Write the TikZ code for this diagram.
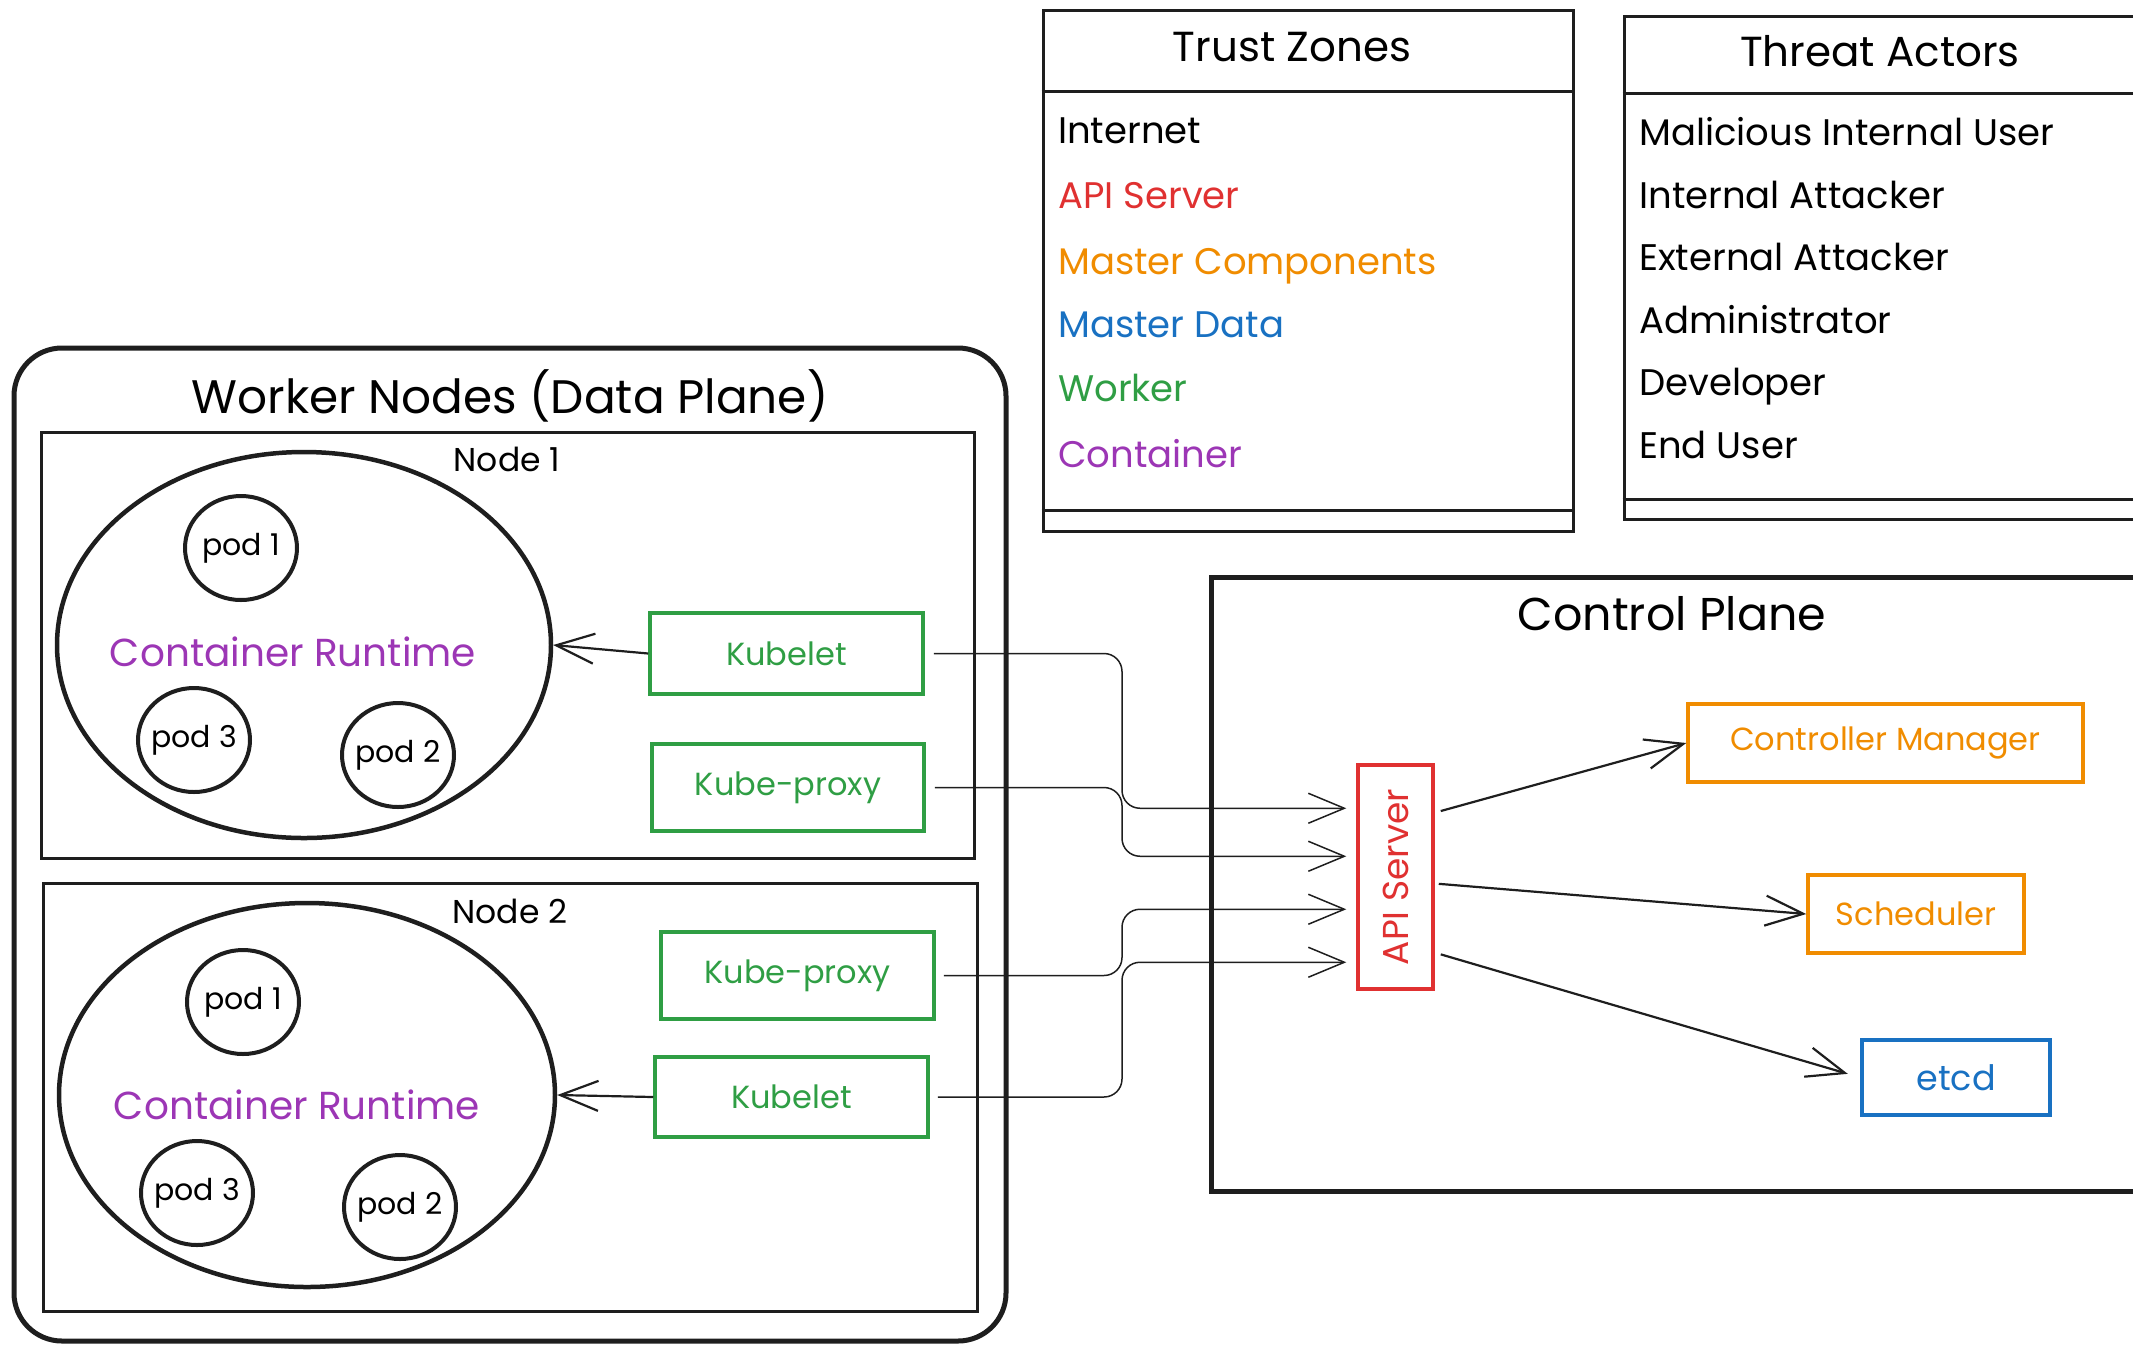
\documentclass[tikz,border=0pt]{standalone}
\usepackage{fontspec}
\setmainfont{Poppins}
\usetikzlibrary{arrows.meta,calc,shapes.geometric}

\definecolor{ink}{HTML}{1E1E1E}
\definecolor{zred}{HTML}{E03131}
\definecolor{zorange}{HTML}{F08C00}
\definecolor{zblue}{HTML}{1971C2}
\definecolor{zgreen}{HTML}{2F9E44}
\definecolor{zpurple}{HTML}{9C36B5}

\tikzset{
  fs/.style={font=\fontsize{#1}{#1}\selectfont},
  frame/.style={draw=ink, line width=#1, inner sep=0pt},
  item/.style={fs=37, anchor=base west, inner sep=0pt},
  cbox/.style={draw=#1, text=#1, line width=3.5pt, inner sep=0pt, fs=32},
  pod/.style={draw=ink, line width=4pt, ellipse, minimum width=112pt, minimum height=104pt, inner sep=0pt,
              label={[fs=30, inner sep=0pt]center:#1}},
  runtime/.style={draw=ink, line width=4.5pt, ellipse, inner sep=0pt},
  conn/.style={draw=ink, line width=1.5pt, rounded corners=18pt, -{Straight Barb[length=36pt,width=30pt]}},
  arr/.style={draw=ink, line width=2.2pt, -{Straight Barb[length=38pt,width=30pt]}},
}

\begin{document}
\begin{tikzpicture}[x=1pt,y=-1pt]
\useasboundingbox (0,0) rectangle (2133,1345);
\clip (0,0) rectangle (2133,1345);

% ---------- Trust zones table ----------
\node[frame=3pt, minimum width=530pt, minimum height=521pt] (tz) at (1308,270.5) {};
\draw[ink, line width=3pt] (tz.west |- 0,91) -- (tz.east |- 0,91);
\draw[ink, line width=3pt] (tz.west |- 0,510) -- (tz.east |- 0,510);
\node[fs=42, anchor=base, inner sep=0pt] (tzt) at (1292,61) {Trust Zones};
\node[item] (z1) at (1058,143) {Internet};
\node[item, text=zred] (z2) at (1058,208) {API Server};
\node[item, text=zorange] (z3) at (1058,274) {Master Components};
\node[item, text=zblue] (z4) at (1058,337) {Master Data};
\node[item, text=zgreen] (z5) at (1058,401) {Worker};
\node[item, text=zpurple] (z6) at (1058,467) {Container};

% ---------- Threat actors table ----------
\node[frame=3pt, minimum width=540pt, minimum height=503pt] (ta) at (1894,267.5) {};
\draw[ink, line width=3pt] (ta.west |- 0,93) -- (ta.east |- 0,93);
\draw[ink, line width=3pt] (ta.west |- 0,499) -- (ta.east |- 0,499);
\node[fs=42, anchor=base, inner sep=0pt] (tat) at (1880,66) {Threat Actors};
\node[item] (a1) at (1639,145) {Malicious Internal User};
\node[item] (a2) at (1639,208) {Internal Attacker};
\node[item] (a3) at (1639,270) {External Attacker};
\node[item] (a4) at (1639,333) {Administrator};
\node[item] (a5) at (1639,395) {Developer};
\node[item] (a6) at (1639,458) {End User};

% ---------- Worker nodes ----------
\node[frame=5pt, rounded corners=48pt, minimum width=992pt, minimum height=993pt] (wk) at (510,844.5) {};
\node[fs=47, anchor=base, inner sep=0pt] (wkt) at (510,413) {Worker Nodes (Data Plane)};

% Node 1
\node[frame=3pt, minimum width=933pt, minimum height=426pt] (n1) at (507.5,645) {};
\node[fs=33, anchor=base, inner sep=0pt] (n1t) at (507,471) {Node 1};
\node[runtime, minimum width=494pt, minimum height=386pt] (rt1) at (304,645) {};
\node[fs=39, text=zpurple, anchor=base, inner sep=0pt] (rt1t) at (293,666) {Container Runtime};
\node[pod=pod 1] (p11) at (241,548) {};
\node[pod=pod 3] (p13) at (194,740) {};
\node[pod=pod 2] (p12) at (398,755) {};
\node[cbox=zgreen, minimum width=273pt, minimum height=81pt] (kl1) at (786.5,653.5) {Kubelet};
\node[cbox=zgreen, minimum width=272pt, minimum height=87pt] (kp1) at (788,787.5) {Kube-proxy};

% Node 2
\node[frame=3pt, minimum width=934pt, minimum height=428pt] (n2) at (510,1097) {};
\node[fs=33, anchor=base, inner sep=0pt] (n2t) at (510,923) {Node 2};
\node[runtime, minimum width=496pt, minimum height=384pt] (rt2) at (307,1095) {};
\node[fs=39, text=zpurple, anchor=base, inner sep=0pt] (rt2t) at (297,1119) {Container Runtime};
\node[pod=pod 1] (p21) at (243,1002) {};
\node[pod=pod 3] (p23) at (197,1193) {};
\node[pod=pod 2] (p22) at (400,1207) {};
\node[cbox=zgreen, minimum width=273pt, minimum height=87pt] (kp2) at (797.5,975.5) {Kube-proxy};
\node[cbox=zgreen, minimum width=273pt, minimum height=80pt] (kl2) at (791.5,1097) {Kubelet};

% ---------- Control plane ----------
\node[frame=5pt, minimum width=960pt, minimum height=614pt] (cp) at (1691,884) {};
\node[fs=46, anchor=base, inner sep=0pt] (cpt) at (1672,630) {Control Plane};
\node[cbox=zred, minimum width=75pt, minimum height=224pt] (api) at (1395.5,877) {};
\node[fs=36, text=zred, rotate=90, inner sep=0pt] (apit) at (api.center) {API Server};
\node[cbox=zorange, minimum width=395pt, minimum height=78pt] (cm) at (1885.5,743) {Controller Manager};
\node[cbox=zorange, minimum width=216pt, minimum height=78pt] (sch) at (1916,914) {Scheduler};
\node[cbox=zblue, minimum width=188pt, minimum height=75pt, fs=35] (etcd) at (1956,1077.5) {etcd};

% ---------- Connectors ----------
\coordinate (bus) at (1122,0);
\coordinate (in1) at ($(api.north west)+(-10,45)$);
\coordinate (in2) at ($(api.north west)+(-10,93)$);
\coordinate (in3) at ($(api.north west)+(-10,146)$);
\coordinate (in4) at ($(api.north west)+(-10,199)$);

\draw[conn] ([xshift=9pt]kl1.east) -| (bus |- in1) -- (in1);
\draw[conn] ([xshift=9pt]kp1.east) -| (bus |- in2) -- (in2);
\draw[conn] ([xshift=8pt]kp2.east) -| (bus |- in3) -- (in3);
\draw[conn] ([xshift=8pt]kl2.east) -| (bus |- in4) -- (in4);

\draw[arr] (kl1.west) -- (rt1.east);
\draw[arr] (kl2.west) -- (rt2.east);

\draw[arr] ($(api.north east)!0.21!(api.south east)+(6,0)$) -- (cm.west);
\draw[arr] ($(api.north east)!0.53!(api.south east)+(4,0)$) -- (sch.west);
\draw[arr, shorten >=13pt] ($(api.north east)!0.84!(api.south east)+(6,0)$) -- (etcd.west);
\end{tikzpicture}
\end{document}
